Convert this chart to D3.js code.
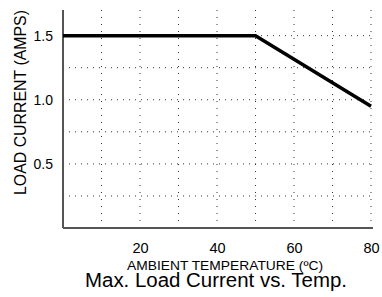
<!DOCTYPE html>
<html>
<head>
<meta charset="utf-8">
<script src="https://cdn.jsdelivr.net/npm/d3@7"></script>
<style>
  body { margin: 0; background: #fff; }
  text { font-family: "Liberation Sans", Arial, sans-serif; fill: #000; }
</style>
</head>
<body>
<svg id="chart" width="382" height="297"></svg>
<script>
// derating curve
const temps = [0, 50, 80];
const amps = [1.5, 1.5, 0.95];

const xTicks = [20, 40, 60, 80];
const yTicks = [0.5, 1.0, 1.5];
const xGrid = [10, 20, 30, 40, 50, 60, 70, 80];
const yGrid = [0.25, 0.5, 0.75, 1.0, 1.25, 1.5];

const margin = { left: 63, right: 11, top: 10, bottom: 69 };
const width = 382;
const height = 297;

const svg = d3.select('#chart');

const x = d3.scaleLinear().domain([0, 80]).range([margin.left, width - margin.right]);
const y = d3.scaleLinear().domain([0, 1.7]).range([height - margin.bottom, margin.top]);

// dotted grid
svg.append('g')
  .selectAll('line')
  .data(xGrid)
  .join('line')
  .attr('x1', d => x(d)).attr('x2', d => x(d))
  .attr('y1', y(0)).attr('y2', margin.top - 2)
  .attr('stroke', '#333')
  .attr('stroke-width', 1)
  .attr('stroke-dasharray', '1,6');

svg.append('g')
  .selectAll('line')
  .data(yGrid)
  .join('line')
  .attr('x1', x(0)).attr('x2', x(80) + 2)
  .attr('y1', d => y(d)).attr('y2', d => y(d))
  .attr('stroke', '#333')
  .attr('stroke-width', 1)
  .attr('stroke-dasharray', '1,5');

// x axis
const xAxis = d3.axisBottom(x).tickValues(xTicks).tickSize(0).tickPadding(15).tickFormat(d3.format('d'));
const gx = svg.append('g')
  .attr('transform', `translate(0,${y(0)})`)
  .call(xAxis);
gx.select('.domain').attr('stroke', '#555').attr('stroke-width', 2).attr('d', `M${x(0)},0H${x(80) + 2}`);
gx.selectAll('text').style('font-size', '14.5px');

// y axis
const yAxis = d3.axisLeft(y).tickValues(yTicks).tickSize(0).tickPadding(10).tickFormat(d3.format('.1f'));
const gy = svg.append('g')
  .attr('transform', `translate(${x(0)},0)`)
  .call(yAxis);
gy.select('.domain').attr('stroke', '#555').attr('stroke-width', 2).attr('d', `M0,${margin.top}V${y(0)}`);
gy.selectAll('text').style('font-size', '14px');

// curve
const line = d3.line().x((d, i) => x(temps[i])).y(d => y(d));
svg.append('path')
  .datum(amps)
  .attr('fill', 'none')
  .attr('stroke', '#000')
  .attr('stroke-width', 3.5)
  .attr('d', line);

// labels
svg.append('text')
  .attr('transform', 'translate(25.5,102.5) rotate(-90)')
  .attr('text-anchor', 'middle')
  .attr('textLength', 185)
  .attr('lengthAdjust', 'spacingAndGlyphs')
  .style('font-size', '16.5px')
  .text('LOAD CURRENT (AMPS)');

svg.append('text')
  .attr('x', 225).attr('y', 269.5)
  .attr('text-anchor', 'middle')
  .attr('textLength', 196)
  .attr('lengthAdjust', 'spacingAndGlyphs')
  .style('font-size', '13.5px')
  .text('AMBIENT TEMPERATURE (ºC)');

svg.append('text')
  .attr('x', 216).attr('y', 287)
  .attr('text-anchor', 'middle')
  .attr('textLength', 262)
  .attr('lengthAdjust', 'spacingAndGlyphs')
  .style('font-size', '19.5px')
  .text('Max. Load Current vs. Temp.');
</script>
</body>
</html>
